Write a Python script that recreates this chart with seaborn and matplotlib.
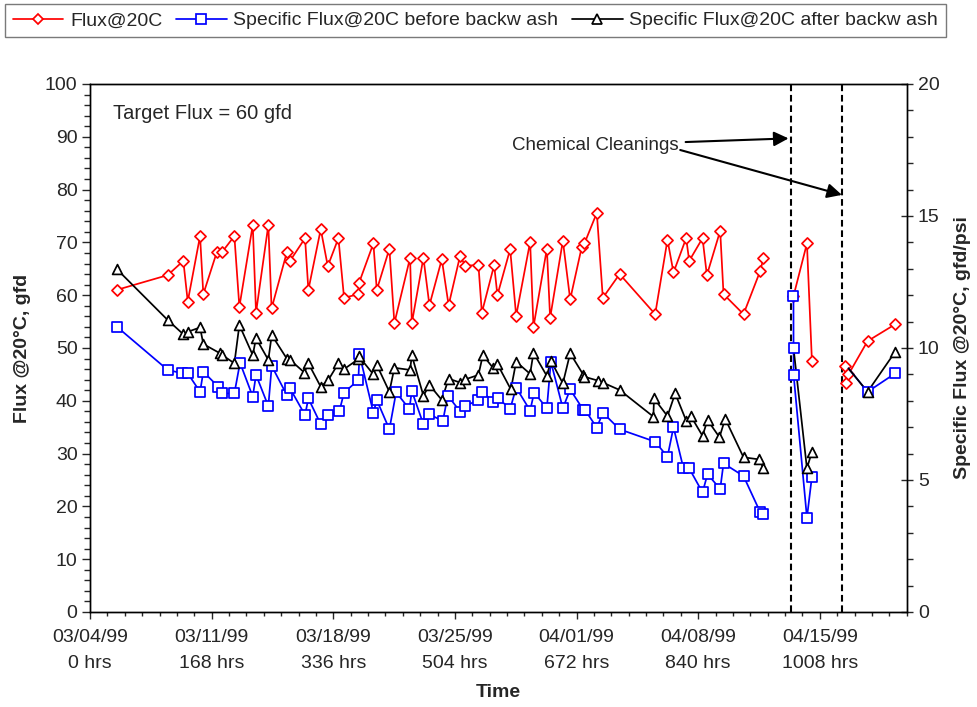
import numpy as np
import pandas as pd
import matplotlib
matplotlib.use("Agg")
import matplotlib.pyplot as plt
from matplotlib.lines import Line2D
from matplotlib.ticker import MultipleLocator
import seaborn as sns

# --- datos (horas desde 03/04/99) ---
red_hrs = [36.9, 107.3, 128.9, 135.0, 152.0, 156.5, 175.0, 182.0, 199.4, 206.3,
           224.8, 229.3, 246.3, 250.8, 271.8, 276.3, 297.0, 301.6, 318.7, 328.4,
           343.1, 350.9, 370.7, 371.5, 391.4, 396.1, 413.5, 420.4, 442.1, 444.5,
           460.5, 468.8, 485.9, 495.3, 511.2, 518.1, 536.5, 541.2, 558.2, 562.7,
           580.3, 588.6, 607.9, 612.5, 631.0, 635.5, 653.1, 663.2, 679.3, 682.9,
           700.0, 708.3, 731.5, 780.6, 797.6, 805.9, 823.4, 827.6, 846.0, 852.0,
           870.4, 875.0, 902.6, 925.7, 930.2,
           971.6, 990.2, 997.1,
           1043.1, 1044.5, 1047.6, 1073.9, 1112.2]
red_flux = [61.0, 63.8, 66.5, 58.8, 71.2, 60.2, 68.1, 68.1, 71.2, 57.8,
            73.3, 56.7, 73.3, 57.5, 68.1, 66.5, 70.8, 61.0, 72.5, 65.5,
            70.8, 59.5, 60.2, 62.3, 69.8, 61.0, 68.8, 54.7, 67.1, 54.7,
            67.1, 58.1, 66.8, 58.1, 67.5, 65.6, 65.7, 56.7, 65.7, 60.0,
            68.7, 56.1, 70.1, 54.0, 68.8, 55.7, 70.3, 59.2, 69.2, 69.8,
            75.6, 59.5, 64.0, 56.4, 70.5, 64.3, 70.8, 66.5, 70.8, 63.8,
            72.2, 60.2, 56.4, 64.6, 67.0,
            59.8, 69.8, 47.5,
            46.5, 43.4, 45.0, 51.3, 54.5]

blue_hrs = [36.9, 107.3, 127.6, 135.0, 152.0, 156.5, 177.3, 182.0, 199.4, 207.2,
            224.8, 229.3, 246.3, 251.0, 271.8, 276.3, 297.0, 301.6, 318.7, 329.2,
            344.4, 350.9, 370.7, 372.1, 391.4, 396.1, 413.5, 422.8, 441.1, 444.5,
            460.5, 468.8, 487.3, 494.2, 511.2, 518.1, 536.5, 541.2, 557.2, 564.1,
            580.3, 588.6, 607.9, 613.4, 631.0, 636.5, 653.1, 663.2, 681.5, 683.9,
            700.0, 708.3, 731.5, 780.6, 797.6, 805.9, 819.7, 827.6, 846.0, 852.9,
            870.4, 875.0, 902.6, 925.7, 930.2,
            971.6, 971.7, 971.8, 990.2, 997.1,
            1047.6, 1073.9, 1112.2]
blue_sflux = [10.81, 9.17, 9.04, 9.04, 8.34, 9.10, 8.53, 8.28, 8.28, 9.44,
              8.16, 8.98, 7.80, 9.32, 8.22, 8.47, 7.46, 8.09, 7.11, 7.46,
              7.61, 8.31, 8.79, 9.76, 7.55, 8.03, 6.92, 8.32, 7.69, 8.37,
              7.11, 7.49, 7.23, 8.20, 7.59, 7.80, 8.03, 8.34, 7.97, 8.09,
              7.69, 8.50, 7.63, 8.31, 7.72, 9.48, 7.72, 8.43, 7.65, 7.65,
              6.98, 7.55, 6.92, 6.45, 5.88, 7.00, 5.44, 5.44, 4.53, 5.22,
              4.66, 5.63, 5.15, 3.78, 3.71,
              11.97, 9.99, 8.98, 3.57, 5.13,
              9.23, 8.34, 9.04]

black_hrs = [36.9, 107.3, 128.9, 135.8, 152.0, 156.5, 179.6, 182.8, 199.4, 206.3,
             224.8, 229.3, 246.3, 251.0, 271.8, 276.3, 296.1, 301.6, 318.7, 329.2,
             343.1, 350.9, 370.7, 371.5, 391.4, 396.1, 413.5, 420.4, 442.1, 444.5,
             460.5, 468.8, 485.9, 495.3, 511.2, 518.1, 536.5, 542.6, 557.2, 562.7,
             581.3, 588.6, 607.9, 612.5, 631.0, 636.5, 653.1, 663.2, 681.5, 682.9,
             702.2, 708.3, 731.5, 778.1, 779.0, 797.6, 808.2, 823.4, 829.9, 846.0,
             852.9, 869.4, 877.3, 902.6, 924.3, 930.2,
             971.7, 990.2, 997.1,
             1047.6, 1073.9, 1112.2]
black_sflux = [12.99, 11.06, 10.52, 10.62, 10.78, 10.15, 9.80, 9.73, 9.42, 10.87,
               9.73, 10.37, 9.55, 10.49, 9.60, 9.55, 9.07, 9.42, 8.53, 8.79,
               9.42, 9.20, 9.58, 9.68, 9.00, 9.36, 8.34, 9.25, 9.17, 9.72,
               8.19, 8.60, 8.03, 8.84, 8.69, 8.81, 8.98, 9.73, 9.23, 9.39,
               8.43, 9.48, 9.02, 9.82, 8.94, 9.52, 8.66, 9.80, 8.98, 8.91,
               8.76, 8.69, 8.41, 7.40, 8.09, 7.42, 8.28, 7.25, 7.42, 6.67,
               7.27, 6.62, 7.32, 5.86, 5.78, 5.44,
               9.99, 5.44, 6.07,
               9.23, 8.34, 9.86]

# puntos sin marcador en el original
blue_unmarked = [1047.6]
black_unmarked = [971.7, 1047.6]

cleanings_hrs = [968.5, 1038.5]
tick_hrs = [0, 168, 336, 504, 672, 840, 1008]
tick_dates = ["03/04/99", "03/11/99", "03/18/99", "03/25/99", "04/01/99", "04/08/99", "04/15/99"]

legend_labels = ["Flux@20C", "Specific Flux@20C before backw ash",
                 "Specific Flux@20C after backw ash"]


def _tabla(hrs, vals, unmarked=()):
    df = pd.DataFrame({"hrs": hrs, "val": vals})
    df["seg"] = np.searchsorted(cleanings_hrs, df["hrs"])  # tramos separados por limpiezas
    df["marca"] = ~df["hrs"].isin(unmarked)
    return df


df_red = _tabla(red_hrs, red_flux)
df_blue = _tabla(blue_hrs, blue_sflux, blue_unmarked)
df_black = _tabla(black_hrs, black_sflux, black_unmarked)

sns.set_style("ticks")
plt.rcParams["font.family"] = ["Liberation Sans", "DejaVu Sans"]
plt.rcParams["axes.linewidth"] = 1.0

fig = plt.figure(figsize=(9.77, 7.07), dpi=100)
ax = fig.add_axes([90 / 977, 95 / 707, 816.7 / 977, 528 / 707])
ax2 = ax.twinx()

LW = 1.25
estilos = [
    (ax, df_red, "red", "D", 32),
    (ax2, df_blue, "blue", "s", 56),
    (ax2, df_black, "black", "^", 50),
]
for eje, df, color, marker, s in estilos:
    sns.lineplot(data=df, x="hrs", y="val", units="seg", estimator=None, sort=False,
                 color=color, lw=LW, ax=eje, legend=False, zorder=2)
    sns.scatterplot(data=df[df["marca"]], x="hrs", y="val", marker=marker, s=s,
                    color="white", edgecolor=color, linewidth=LW, ax=eje,
                    legend=False, zorder=3)

for c in cleanings_hrs:
    ax.axvline(c, color="black", lw=1.5, ls=(0, (3.2, 1.8)), zorder=1)

ax.set_xlim(0, 1128)
ax.set_ylim(0, 100)
ax2.set_ylim(0, 20)

ax.set_xticks(tick_hrs, labels=[f"{d}\n{h} hrs" for d, h in zip(tick_dates, tick_hrs)],
              linespacing=1.7)
ax.xaxis.set_minor_locator(MultipleLocator(24))
ax.yaxis.set_major_locator(MultipleLocator(10))
ax.yaxis.set_minor_locator(MultipleLocator(2))
ax2.yaxis.set_major_locator(MultipleLocator(5))
ax2.yaxis.set_minor_locator(MultipleLocator(1))

ax.tick_params(axis="x", which="major", direction="out", length=5, width=1, pad=7, labelsize=14)
ax.tick_params(axis="x", which="minor", direction="out", length=3, width=1)
ax.tick_params(axis="y", which="major", direction="out", length=6, width=1, pad=3, labelsize=14)
ax.tick_params(axis="y", which="minor", direction="out", length=4, width=1)
ax2.tick_params(axis="y", which="major", direction="inout", length=8, width=1, pad=4, labelsize=14)
ax2.tick_params(axis="y", which="minor", direction="out", length=4, width=1)

for eje in (ax, ax2):
    for sp in eje.spines.values():
        sp.set_color("black")
        sp.set_linewidth(1.0)

ax.set_xlabel("Time", fontsize=14, fontweight="bold")
ax.xaxis.set_label_coords(0.5, -0.136)
ax.set_ylabel("Flux @20°C, gfd", fontsize=14, fontweight="bold")
ax.yaxis.set_label_coords(-0.072, 0.5)
ax2.set_ylabel("Specific Flux @20°C, gfd/psi", fontsize=14, fontweight="bold", rotation=90)
ax2.yaxis.set_label_coords(1.058, 0.5)

ax2.text(31.8, 94.5 / 5, "Target Flux = 60 gfd", fontsize=14.5, va="center", ha="left")
ax2.annotate("Chemical Cleanings", xy=(964.8, 89.7 / 5), xytext=(812.4, 88.4 / 5),
             fontsize=13.5, ha="right", va="center",
             arrowprops=dict(arrowstyle="-|>", color="black", lw=1.5,
                             mutation_scale=22, shrinkA=3, shrinkB=0))
ax2.annotate("", xy=(1038.5, 79.0 / 5), xytext=(815.2, 87.5 / 5),
             arrowprops=dict(arrowstyle="-|>", color="black", lw=1.5,
                             mutation_scale=22, shrinkA=0, shrinkB=0))

handles = [
    Line2D([], [], color="red", lw=LW, marker="D", ms=5.6, mfc="white", mec="red", mew=LW),
    Line2D([], [], color="blue", lw=LW, marker="s", ms=7.5, mfc="white", mec="blue", mew=LW),
    Line2D([], [], color="black", lw=LW, marker="^", ms=7.0, mfc="white", mec="black", mew=LW),
]
leg = fig.legend(handles, legend_labels, loc="upper left", bbox_to_anchor=(5 / 977, 1 - 4 / 707),
                 ncol=3, fontsize=14, frameon=True, fancybox=False, edgecolor="0.35",
                 borderpad=0.4, handlelength=2.6, handletextpad=0.35, columnspacing=0.7,
                 borderaxespad=0)
leg.get_frame().set_linewidth(1.0)

fig.savefig("out.png", dpi=100)
plt.close(fig)
